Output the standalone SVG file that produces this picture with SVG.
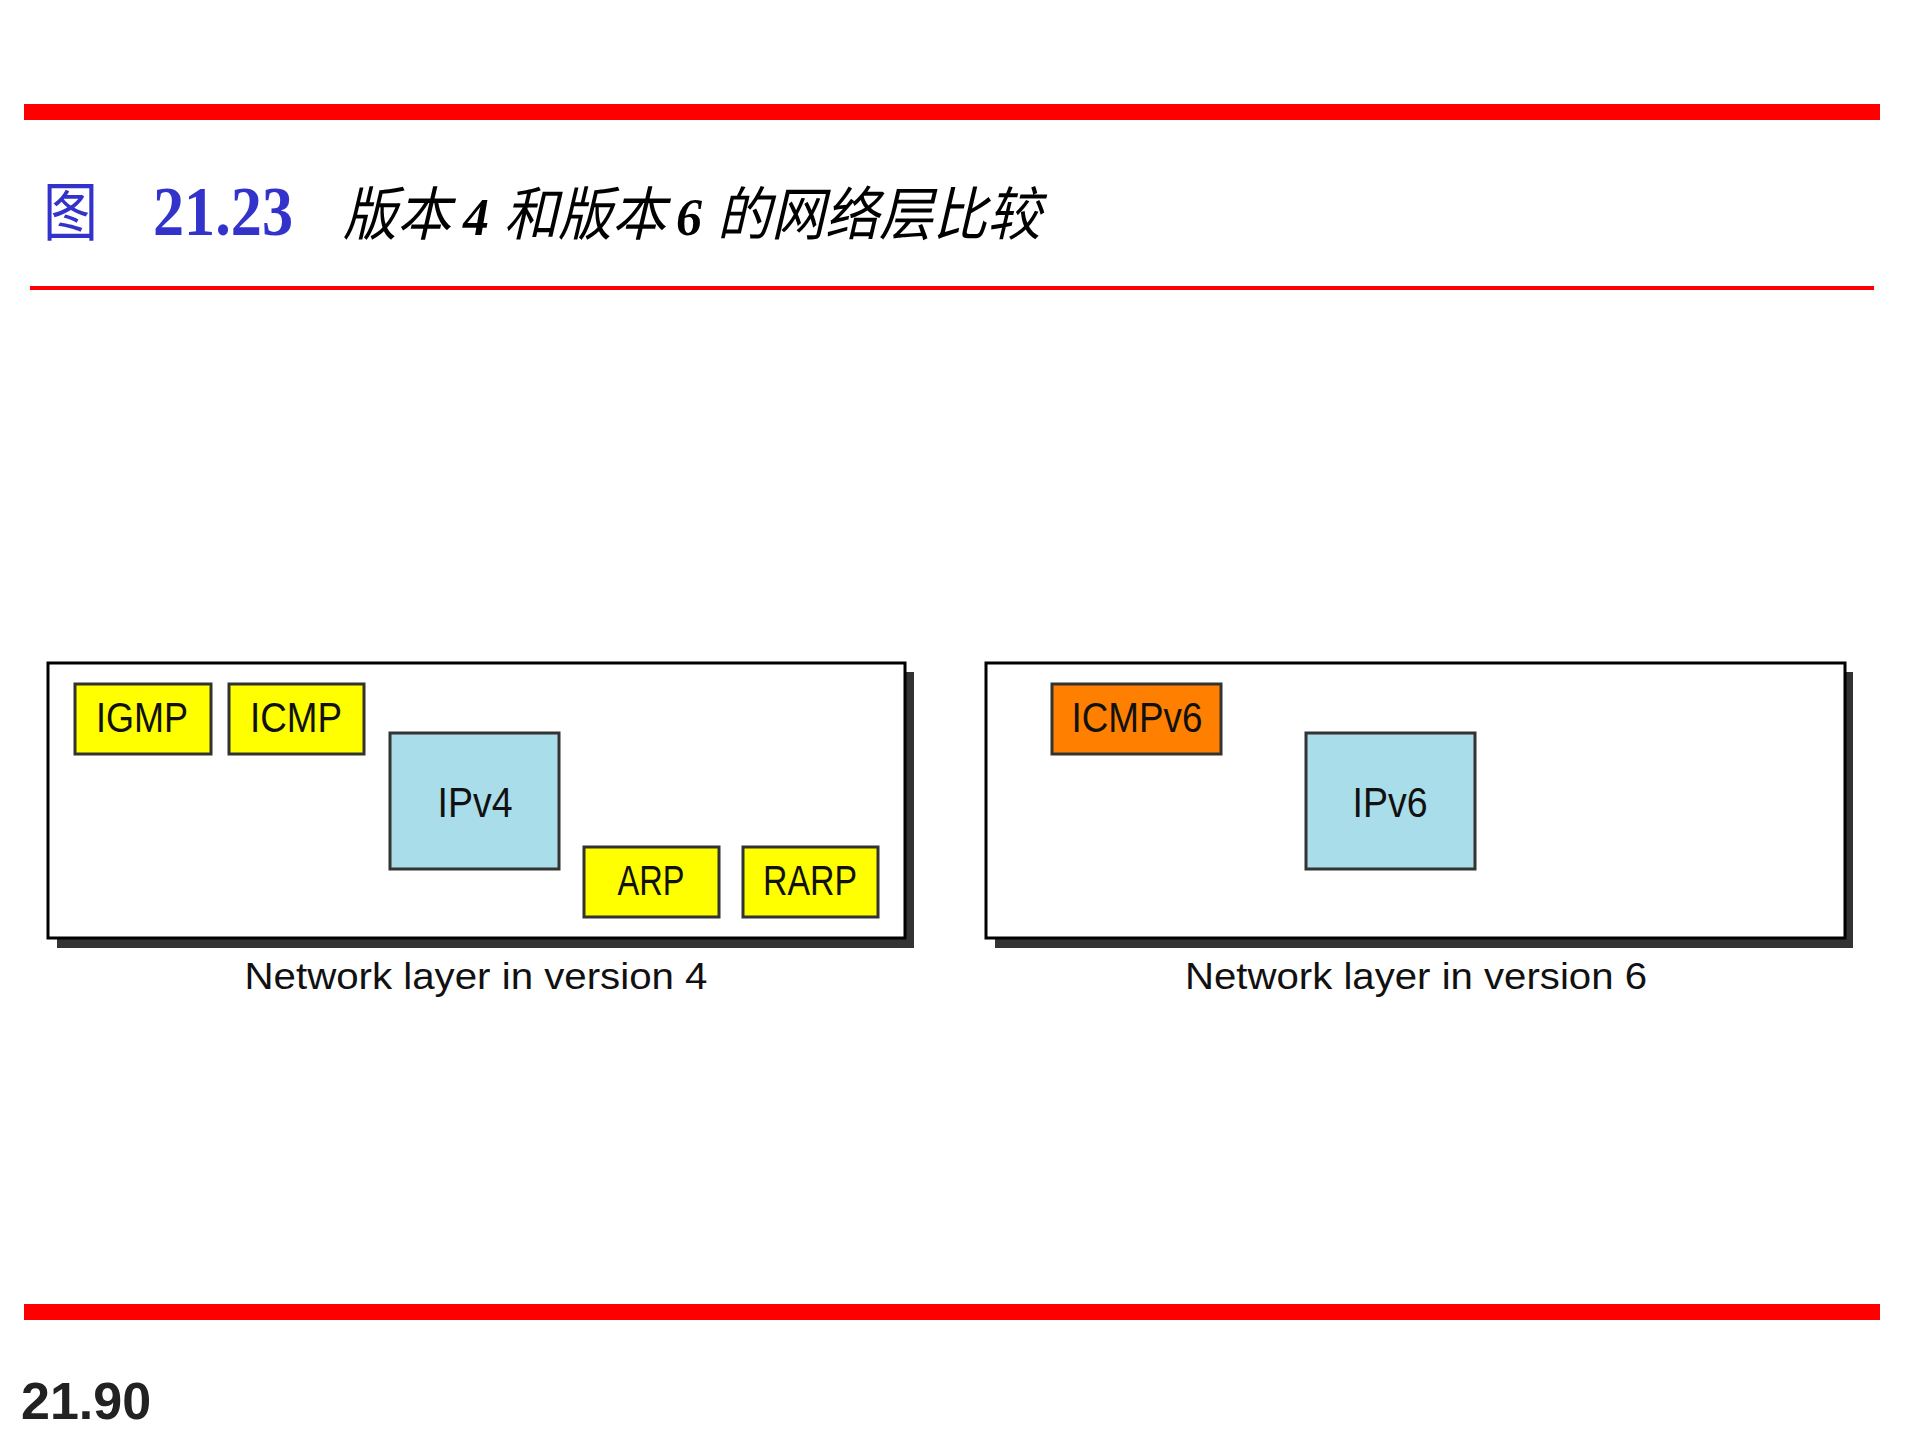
<svg xmlns="http://www.w3.org/2000/svg" width="1920" height="1440" viewBox="0 0 1920 1440">
<style>
.bar{fill:#FF0000}
.outer{fill:#FFFFFF;stroke:#000000;stroke-width:3}
.shadow{fill:#333333}
.y{fill:#FFFF00;stroke:#333333;stroke-width:3}
.b{fill:#AADDEA;stroke:#333333;stroke-width:3}
.o{fill:#FF8000;stroke:#333333;stroke-width:3}
.t{font-family:"Liberation Sans","DejaVu Sans",sans-serif;font-size:42px;fill:#111111;text-anchor:middle}
.lab{font-family:"Liberation Sans","DejaVu Sans",sans-serif;font-size:36px;fill:#111111;text-anchor:middle}
.cjk{font-family:"Liberation Serif","Noto Sans CJK SC",serif;font-style:italic;font-size:58px;fill:#000000}
.dg{font-family:"Liberation Serif",serif;font-style:italic;font-weight:bold;font-size:52px;fill:#000000}
</style>
<rect x="0" y="0" width="1920" height="1440" fill="#FFFFFF"/>
<g id="decor">
<rect class="bar" x="24" y="104" width="1856" height="16"/>
<rect class="bar" x="30" y="286" width="1844" height="4"/>
<rect class="bar" x="24" y="1304" width="1856" height="16"/>
</g>
<g id="title">
<text x="43" y="235" font-family="Noto Sans CJK SC,sans-serif" font-size="64" fill="#3333CC" textLength="55" lengthAdjust="spacingAndGlyphs">图</text>
<text x="153" y="235" font-family="Liberation Serif,serif" font-weight="bold" font-size="70" fill="#3333CC" textLength="140" lengthAdjust="spacingAndGlyphs">21.23</text>
<text class="cjk" x="343" y="235" textLength="108" lengthAdjust="spacingAndGlyphs">版本</text>
<text class="dg" x="463" y="235">4</text>
<text class="cjk" x="504" y="235" textLength="162" lengthAdjust="spacingAndGlyphs">和版本</text>
<text class="dg" x="676" y="235">6</text>
<text class="cjk" x="717" y="235" textLength="324" lengthAdjust="spacingAndGlyphs">的网络层比较</text>
</g>
<g id="v4-container">
<rect class="shadow" x="57" y="672" width="857" height="276"/>
<rect class="outer" x="48" y="663" width="857" height="275"/>
<text class="lab" x="476" y="989" textLength="463" lengthAdjust="spacingAndGlyphs">Network layer in version 4</text>
</g>
<g id="igmp"><rect class="y" x="75" y="684" width="136" height="70"/><text class="t" x="142" y="732" textLength="92" lengthAdjust="spacingAndGlyphs">IGMP</text></g>
<g id="icmp"><rect class="y" x="229" y="684" width="135" height="70"/><text class="t" x="296" y="732" textLength="92" lengthAdjust="spacingAndGlyphs">ICMP</text></g>
<g id="ipv4"><rect class="b" x="390" y="733" width="169" height="136"/><text class="t" x="475" y="817" textLength="75" lengthAdjust="spacingAndGlyphs">IPv4</text></g>
<g id="arp"><rect class="y" x="584" y="847" width="135" height="70"/><text class="t" x="651" y="895" textLength="67" lengthAdjust="spacingAndGlyphs">ARP</text></g>
<g id="rarp"><rect class="y" x="743" y="847" width="135" height="70"/><text class="t" x="810" y="895" textLength="94" lengthAdjust="spacingAndGlyphs">RARP</text></g>
<g id="v6-container">
<rect class="shadow" x="995" y="672" width="858" height="276"/>
<rect class="outer" x="986" y="663" width="859" height="275"/>
<text class="lab" x="1416" y="989" textLength="462" lengthAdjust="spacingAndGlyphs">Network layer in version 6</text>
</g>
<g id="icmpv6"><rect class="o" x="1052" y="684" width="169" height="70"/><text class="t" x="1137" y="732" textLength="131" lengthAdjust="spacingAndGlyphs">ICMPv6</text></g>
<g id="ipv6"><rect class="b" x="1306" y="733" width="169" height="136"/><text class="t" x="1390" y="817" textLength="75" lengthAdjust="spacingAndGlyphs">IPv6</text></g>
<g id="connectors"></g>
<text x="21" y="1419" font-family="Liberation Sans,sans-serif" font-weight="bold" font-size="52" fill="#222222">21.90</text>
</svg>
